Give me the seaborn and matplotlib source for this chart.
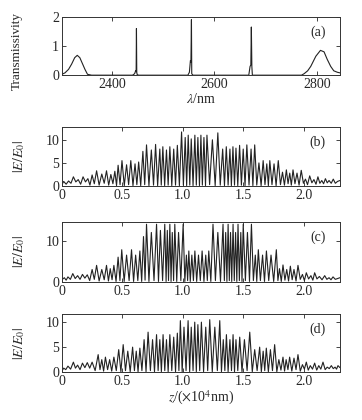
import numpy as np
import pandas as pd
import seaborn as sns
import matplotlib
matplotlib.use("Agg")
import matplotlib.pyplot as plt

# (a) transmission spectrum
wl = [2302, 2308, 2315, 2321, 2327, 2332, 2337, 2342, 2347, 2352, 2360,
      2440, 2444, 2446, 2447, 2447.6, 2448.2, 2449, 2452,
      2548, 2551, 2553, 2554, 2555, 2555.6, 2558,
      2667, 2669.5, 2671, 2672, 2673, 2674,
      2770, 2775, 2782, 2788, 2798, 2807, 2814, 2820, 2827, 2833, 2840, 2845]
trans = [0.03, 0.08, 0.2, 0.38, 0.6, 0.68, 0.6, 0.4, 0.2, 0.03, 0.0,
         0.0, 0.05, 0.15, 0.12, 1.6, 0.1, 0.02, 0.0,
         0.0, 0.1, 0.5, 0.45, 1.9, 0.05, 0.0,
         0.0, 0.3, 0.35, 1.65, 0.3, 0.0,
         0.0, 0.05, 0.15, 0.3, 0.65, 0.85, 0.8, 0.55, 0.3, 0.15, 0.1, 0.08]

# (b) field profile: local maxima and minima
zb_pk = [0.015, 0.055, 0.095, 0.135, 0.175, 0.215, 0.250, 0.287, 0.330, 0.369,
         0.405, 0.438, 0.465, 0.497, 0.535, 0.570, 0.605, 0.635, 0.670, 0.700,
         0.740, 0.775, 0.810, 0.835, 0.865, 0.893, 0.925, 0.955, 0.990, 1.020,
         1.045, 1.070, 1.100, 1.125, 1.150, 1.175, 1.200, 1.245, 1.290, 1.330,
         1.360, 1.390, 1.415, 1.440, 1.470, 1.500, 1.530, 1.565, 1.595, 1.630,
         1.665, 1.695, 1.720, 1.755, 1.790, 1.825, 1.857, 1.885, 1.912, 1.945,
         1.980, 2.015, 2.050, 2.085, 2.118, 2.150, 2.180, 2.210, 2.245, 2.280]
eb_pk = [1.0, 1.1, 2.0, 1.4, 2.0, 1.6, 2.4, 3.3, 2.6, 3.3,
         2.5, 3.2, 4.5, 5.5, 4.6, 5.5, 4.8, 5.2, 7.5, 8.9,
         7.8, 9.0, 8.0, 8.5, 7.8, 8.5, 8.0, 8.8, 11.7, 10.5,
         11.0, 10.2, 11.0, 10.5, 11.0, 10.5, 11.0, 10.0, 11.5, 8.0,
         8.5, 8.0, 8.5, 8.2, 8.8, 8.0, 8.9, 8.0, 8.9, 5.0,
         5.5, 4.8, 5.5, 4.8, 5.5, 3.0, 3.5, 2.8, 3.5, 2.8,
         3.4, 1.5, 2.2, 1.4, 2.0, 1.2, 1.6, 1.2, 1.5, 1.0]
zb_lo = [0.000, 0.035, 0.075, 0.115, 0.155, 0.195, 0.232, 0.268, 0.308, 0.350,
         0.387, 0.422, 0.452, 0.481, 0.516, 0.552, 0.588, 0.620, 0.652, 0.685,
         0.720, 0.758, 0.792, 0.822, 0.850, 0.879, 0.909, 0.940, 0.972, 1.005,
         1.032, 1.058, 1.085, 1.112, 1.138, 1.162, 1.188, 1.222, 1.268, 1.310,
         1.345, 1.375, 1.402, 1.428, 1.455, 1.485, 1.515, 1.548, 1.580, 1.612,
         1.648, 1.680, 1.708, 1.738, 1.772, 1.808, 1.841, 1.871, 1.898, 1.928,
         1.962, 1.998, 2.032, 2.068, 2.102, 2.134, 2.165, 2.195, 2.228, 2.262, 2.300]
eb_lo = [0.3, 0.4, 0.6, 0.9, 0.4, 0.9, 0.2, 0.5, 0.2, 0.6,
         0.2, 0.5, 0.1, 0.3, 0.1, 0.3, 0.1, 0.3, 0.1, 0.3,
         0.1, 0.2, 0.1, 0.2, 0.1, 0.2, 0.1, 0.2, 0.1, 0.2,
         0.1, 0.2, 0.1, 0.2, 0.1, 0.2, 0.1, 0.3, 0.1, 0.2,
         0.1, 0.2, 0.1, 0.2, 0.1, 0.2, 0.1, 0.2, 0.1, 0.2,
         0.1, 0.3, 0.1, 0.3, 0.1, 0.3, 0.2, 0.5, 0.2, 0.5,
         0.2, 0.6, 0.3, 0.7, 0.4, 0.6, 0.5, 0.7, 0.6, 0.6, 1.2]

# (c)
zc_pk = [0.020, 0.050, 0.090, 0.130, 0.170, 0.210, 0.250, 0.287, 0.330, 0.369,
         0.400, 0.430, 0.465, 0.495, 0.535, 0.576, 0.610, 0.645, 0.675, 0.700,
         0.740, 0.783, 0.815, 0.851, 0.872, 0.893, 0.913, 0.934, 0.965, 1.003,
         1.030, 1.050, 1.075, 1.100, 1.130, 1.160, 1.190, 1.215, 1.250, 1.290,
         1.333, 1.355, 1.375, 1.395, 1.416, 1.437, 1.457, 1.480, 1.500, 1.535,
         1.568, 1.600, 1.625, 1.660, 1.692, 1.730, 1.774, 1.800, 1.829, 1.860,
         1.890, 1.920, 1.953, 1.990, 2.022, 2.060, 2.091, 2.130, 2.174, 2.210,
         2.243, 2.280]
ec_pk = [1.0, 1.2, 2.0, 1.5, 1.8, 1.7, 3.0, 4.0, 3.0, 4.0,
         3.2, 4.0, 6.0, 7.8, 6.5, 7.8, 6.5, 7.5, 11.0, 14.0,
         12.0, 14.0, 12.5, 14.0, 12.5, 14.0, 12.0, 14.0, 12.0, 14.0,
         6.5, 7.5, 6.5, 7.5, 6.5, 7.5, 6.5, 7.5, 14.0, 12.0,
         14.0, 12.0, 14.0, 12.0, 14.0, 12.0, 14.0, 12.0, 14.0, 12.0,
         14.0, 6.5, 7.8, 6.5, 7.5, 6.5, 7.8, 3.2, 4.1, 3.0,
         3.8, 3.0, 4.0, 1.8, 2.2, 1.5, 2.2, 1.3, 1.5, 1.0,
         1.2, 0.8]
zc_lo = [0.000, 0.035, 0.070, 0.110, 0.150, 0.190, 0.230, 0.268, 0.308, 0.350,
         0.385, 0.415, 0.448, 0.480, 0.515, 0.556, 0.593, 0.628, 0.660, 0.688,
         0.720, 0.762, 0.799, 0.833, 0.862, 0.882, 0.903, 0.924, 0.950, 0.984,
         1.017, 1.040, 1.062, 1.088, 1.115, 1.145, 1.175, 1.203, 1.232, 1.270,
         1.312, 1.344, 1.365, 1.385, 1.405, 1.426, 1.447, 1.468, 1.490, 1.518,
         1.552, 1.584, 1.612, 1.642, 1.676, 1.711, 1.752, 1.787, 1.815, 1.845,
         1.875, 1.905, 1.937, 1.972, 2.006, 2.041, 2.076, 2.110, 2.152, 2.192,
         2.226, 2.262, 2.300]
ec_lo = [0.5, 0.4, 0.6, 0.8, 0.6, 0.9, 0.3, 0.6, 0.2, 0.5,
         0.2, 0.5, 0.1, 0.3, 0.1, 0.3, 0.1, 0.3, 0.1, 0.4,
         0.1, 0.3, 0.1, 0.3, 0.1, 0.3, 0.1, 0.3, 0.1, 0.3,
         0.1, 0.3, 0.1, 0.3, 0.1, 0.3, 0.1, 0.3, 0.1, 0.3,
         0.1, 0.3, 0.1, 0.3, 0.1, 0.3, 0.1, 0.3, 0.1, 0.3,
         0.1, 0.3, 0.1, 0.3, 0.1, 0.3, 0.1, 0.3, 0.1, 0.4,
         0.2, 0.5, 0.2, 0.6, 0.3, 0.7, 0.4, 0.7, 0.5, 0.6,
         0.5, 0.6, 1.0]

# (d)
zd_pk = [0.015, 0.050, 0.095, 0.130, 0.170, 0.210, 0.250, 0.300, 0.330, 0.360,
         0.395, 0.430, 0.470, 0.507, 0.545, 0.585, 0.615, 0.645, 0.680, 0.713,
         0.750, 0.783, 0.810, 0.837, 0.865, 0.893, 0.925, 0.955, 0.980, 1.010,
         1.044, 1.070, 1.099, 1.125, 1.154, 1.190, 1.223, 1.265, 1.306, 1.335,
         1.361, 1.390, 1.416, 1.440, 1.471, 1.510, 1.554, 1.595, 1.636, 1.665,
         1.691, 1.725, 1.760, 1.795, 1.829, 1.855, 1.884, 1.920, 1.953, 1.990,
         2.022, 2.055, 2.091, 2.125, 2.160, 2.195, 2.229, 2.260, 2.284]
ed_pk = [0.8, 1.2, 2.0, 1.4, 1.8, 1.9, 2.0, 3.5, 2.5, 3.0,
         2.5, 3.0, 4.5, 5.5, 4.2, 5.0, 4.2, 4.8, 6.5, 8.0,
         6.5, 7.5, 6.5, 7.5, 6.5, 7.5, 7.0, 7.8, 10.3, 9.0,
         10.3, 9.0, 10.0, 9.5, 10.0, 9.0, 10.5, 9.0, 10.3, 6.5,
         7.5, 6.5, 7.5, 6.5, 7.0, 6.5, 8.0, 4.5, 5.0, 4.2,
         4.8, 4.5, 5.5, 2.5, 3.0, 2.5, 3.0, 2.8, 3.5, 1.5,
         2.0, 1.3, 1.8, 1.3, 2.0, 1.0, 1.3, 1.0, 1.3]
zd_lo = [0.000, 0.032, 0.072, 0.112, 0.150, 0.190, 0.230, 0.275, 0.315, 0.345,
         0.378, 0.412, 0.450, 0.488, 0.526, 0.565, 0.600, 0.630, 0.662, 0.696,
         0.732, 0.766, 0.796, 0.823, 0.851, 0.879, 0.909, 0.940, 0.968, 0.995,
         1.027, 1.057, 1.085, 1.112, 1.140, 1.172, 1.206, 1.244, 1.286, 1.320,
         1.348, 1.375, 1.403, 1.428, 1.455, 1.490, 1.532, 1.575, 1.615, 1.650,
         1.678, 1.708, 1.742, 1.778, 1.812, 1.842, 1.870, 1.902, 1.937, 1.972,
         2.006, 2.038, 2.073, 2.108, 2.142, 2.178, 2.212, 2.245, 2.272, 2.300]
ed_lo = [0.2, 0.5, 0.6, 0.8, 0.5, 0.9, 0.8, 0.3, 0.5, 0.2,
         0.5, 0.2, 0.3, 0.1, 0.3, 0.1, 0.3, 0.1, 0.3, 0.1,
         0.3, 0.1, 0.3, 0.1, 0.3, 0.1, 0.3, 0.1, 0.3, 0.1,
         0.3, 0.1, 0.3, 0.1, 0.3, 0.1, 0.3, 0.1, 0.3, 0.1,
         0.3, 0.1, 0.3, 0.1, 0.3, 0.1, 0.3, 0.1, 0.3, 0.1,
         0.3, 0.1, 0.3, 0.1, 0.4, 0.2, 0.5, 0.2, 0.5, 0.2,
         0.6, 0.4, 0.6, 0.4, 0.6, 0.5, 0.7, 0.7, 0.6, 0.9]

sns.set_style("ticks")
plt.rcParams["font.family"] = ["Liberation Serif", "DejaVu Serif"]
plt.rcParams["mathtext.fontset"] = "stix"
plt.rcParams["font.size"] = 10
plt.rcParams["xtick.direction"] = "in"
plt.rcParams["ytick.direction"] = "in"

fig = plt.figure(figsize=(3.62, 4.20), dpi=100)
boxes = [[0.171, 0.821, 0.768, 0.139],
         [0.171, 0.557, 0.768, 0.141],
         [0.171, 0.329, 0.768, 0.143],
         [0.171, 0.114, 0.768, 0.138]]
axs = [fig.add_axes(b) for b in boxes]

def style(ax):
    ax.tick_params(top=True, right=True, length=3, width=0.6, pad=2, labelsize=10)
    for s in ax.spines.values():
        s.set_linewidth(0.7)
        s.set_color("#333333")

# panel a
ax = axs[0]
sns.lineplot(x=wl, y=trans, ax=ax, color="#222222", lw=0.8, estimator=None, sort=False)
ax.set_xlim(2302, 2845)
ax.set_ylim(0, 2)
ax.set_xticks([2400, 2600, 2800])
ax.set_yticks([0, 1, 2])
ax.set_xlabel(r"$\lambda$/nm", labelpad=1)
ax.set_ylabel("Transmissivity", fontsize=9.5)
ax.yaxis.set_label_coords(-0.14, 0.42)
ax.text(0.92, 0.74, "(a)", transform=ax.transAxes, ha="center", va="center")
style(ax)

panels = [
    (zb_pk, eb_pk, zb_lo, eb_lo, 12.8, [0, 5, 10], "(b)"),
    (zc_pk, ec_pk, zc_lo, ec_lo, 14.6, [0, 10], "(c)"),
    (zd_pk, ed_pk, zd_lo, ed_lo, 11.6, [0, 5, 10], "(d)"),
]
for ax, (zp, ep, zl, el, ytop, yt, tag) in zip(axs[1:], panels):
    df = pd.DataFrame({"z": zp + zl, "E": ep + el})
    sns.lineplot(data=df, x="z", y="E", ax=ax, color="#222222", lw=0.8,
                 estimator=None, sort=True)
    ax.set_xlim(0, 2.3)
    ax.set_ylim(0, ytop)
    ax.set_xticks([0, 0.5, 1.0, 1.5, 2.0])
    ax.set_xticklabels(["0", "0.5", "1.0", "1.5", "2.0"])
    ax.set_yticks(yt)
    ax.set_ylabel(r"$|E/E_0|$")
    ax.yaxis.set_label_coords(-0.125, 0.5)
    ax.set_xlabel("")
    ax.text(0.92, 0.74, tag, transform=ax.transAxes, ha="center", va="center")
    style(ax)

axs[3].set_xlabel(r"$z$/($\times$10$^4$nm)", labelpad=1)

fig.savefig("out.png", dpi=100)
